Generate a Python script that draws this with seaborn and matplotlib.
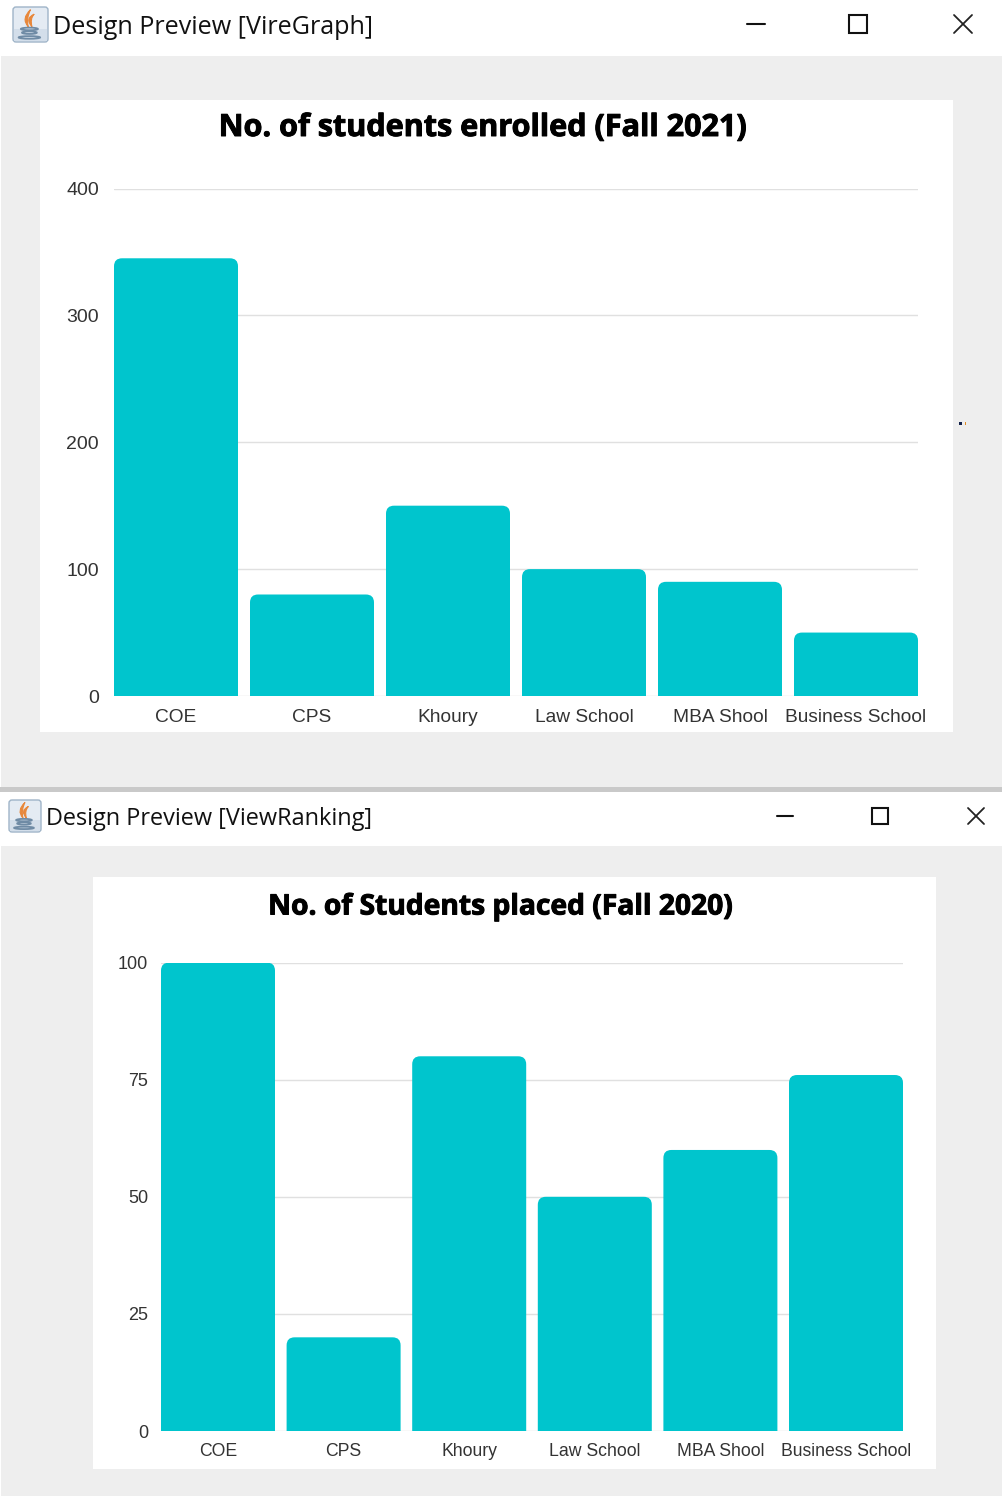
import matplotlib
matplotlib.use('Agg')
import matplotlib.pyplot as plt
import matplotlib.patheffects as pe
import pandas as pd
import seaborn as sns
from matplotlib.patches import FancyBboxPatch, Rectangle, Ellipse, PathPatch
from matplotlib.path import Path

W, H = 1002, 1496

# chart data
categories = ['COE', 'CPS', 'Khoury', 'Law School', 'MBA Shool', 'Business School']
enrolled = [345, 80, 150, 100, 90, 50]
placed = [100, 20, 80, 50, 60, 76]
enrolled_ticks = [0, 100, 200, 300, 400]
placed_ticks = [0, 25, 50, 75, 100]

TEAL = '#00c5cd'
GRID = '#e0e0e0'
PANEL = '#eeeeee'

sns.set_theme(style='white')
plt.rcParams['font.family'] = ['Liberation Sans', 'DejaVu Sans']

fig = plt.figure(figsize=(W / 100, H / 100), dpi=100, facecolor='white')

# full-figure axes in pixel coords, for the window chrome
bg = fig.add_axes([0, 0, 1, 1], zorder=0)
bg.set_xlim(0, W)
bg.set_ylim(H, 0)
bg.axis('off')


def rect(x0, y0, x1, y1, color):
    bg.add_patch(Rectangle((x0, y0), x1 - x0, y1 - y0, fc=color, ec='none'))


def java_icon(x, y, s):
    """ little java cup icon, x/y = top left, s = size in px """
    bg.add_patch(FancyBboxPatch((x + 1, y + 1), s - 2, s - 2, boxstyle='round,pad=0,rounding_size=3',
                                fc='#e4ebf3', ec='#9fb4c8', lw=1))
    bg.add_patch(Rectangle((x + 2, y + s * 0.62), s - 4, s * 0.33, fc='#d3deea', ec='none'))
    for dx, top in [(0, .10), (.10, .22)]:
        flame = Path([(x + s * (.50 + dx), y + s * top), (x + s * (.24 + dx), y + s * .34), (x + s * (.44 + dx), y + s * .56),
                      (x + s * (.38 + dx), y + s * .34), (x + s * (.50 + dx), y + s * top)],
                     [Path.MOVETO, Path.CURVE3, Path.CURVE3, Path.CURVE3, Path.CURVE3])
        bg.add_patch(PathPatch(flame, fc='#e8873a', ec='#e8873a', lw=0.8))
    for cy, cw in [(.62, .46), (.72, .40), (.85, .58)]:
        bg.add_patch(Ellipse((x + s * .47, y + s * cy), s * cw, s * .07, fc='none', ec='#6f8ba5', lw=1.3))


def window_buttons(xmin, xbox, xclose, y, size):
    bg.plot([xmin - size / 2, xmin + size / 2], [y, y], color='#111111', lw=1.5)
    bg.add_patch(Rectangle((xbox - size / 2, y - size / 2), size, size, fc='none', ec='#111111', lw=1.5))
    bg.plot([xclose - size / 2, xclose + size / 2], [y - size / 2, y + size / 2], color='#222222', lw=1.3)
    bg.plot([xclose - size / 2, xclose + size / 2], [y + size / 2, y - size / 2], color='#222222', lw=1.3)


# window backgrounds and white chart panels
rect(1, 56, W, 787, PANEL)
rect(1, 846, W, H, PANEL)
rect(0, 787, W, 792, '#c9c9c9')
rect(40, 100, 953, 732, 'white')
rect(93, 877, 936, 1469, 'white')

java_icon(12, 6, 37)
java_icon(8, 799, 34)
bg.text(53, 27, 'Design Preview [VireGraph]', fontsize=18.1, family='Open Sans', color='#111111', va='center', ha='left')
bg.text(46, 819, 'Design Preview [ViewRanking]', fontsize=16.9, family='Open Sans', color='#111111', va='center', ha='left')
window_buttons(756, 858, 963, 24, 18)
window_buttons(785, 880, 976, 816, 16)

# stray pixels right of the top panel
bg.add_patch(Rectangle((959, 422), 3, 3, fc='#10204a', ec='none'))
bg.add_patch(Rectangle((965, 422), 1.5, 3, fc='#e08a20', ec='none'))


def bar_chart(box, values, ticks, ymax, title, title_y, title_size, ysize, xsize, gap, radius, ypad, xpad):
    """ draw one seaborn bar chart inside box=(left, top, right, bottom) in pixels """
    left, top, right, bottom = box
    ax = fig.add_axes([left / W, 1 - bottom / H, (right - left) / W, (bottom - top) / H], zorder=1)
    ax.patch.set_alpha(0)
    n = len(categories)
    bar_px = ((right - left) - gap * (n - 1)) / n
    frac = bar_px / (bar_px + gap)
    df = pd.DataFrame({'category': categories, 'value': values})
    sns.barplot(data=df, x='category', y='value', color=TEAL, saturation=1, width=frac, ax=ax, zorder=3)
    ax.set_xlim(-frac / 2, n - 1 + frac / 2)
    ax.set_ylim(0, ymax)
    ax.set_yticks(ticks)
    ax.set_xlabel('')
    ax.set_ylabel('')
    ax.grid(axis='y', color=GRID, lw=1)
    ax.set_axisbelow(True)
    sns.despine(ax=ax, left=True, top=True, right=True, bottom=True)
    ax.tick_params(axis='y', length=0, pad=ypad, labelsize=ysize, labelcolor='#333333')
    ax.tick_params(axis='x', length=0, pad=xpad, labelsize=xsize, labelcolor='#333333')
    for lab in ax.get_yticklabels():
        lab.set_verticalalignment('center_baseline')

    # swap each bar for one with rounded top corners; the axes clip the part below the baseline
    x_per_px = (n - 1 + frac) / (right - left)
    y_per_px = ymax / (bottom - top)
    for bar in list(ax.patches[:n]):
        bar.set_visible(False)
        ax.add_patch(FancyBboxPatch((bar.get_x(), -ymax * 0.1), bar.get_width(), bar.get_height() + ymax * 0.1,
                                    boxstyle='round,pad=0,rounding_size=%f' % (radius * x_per_px),
                                    mutation_aspect=y_per_px / x_per_px,
                                    fc=TEAL, ec='none', lw=0, zorder=3))

    txt = bg.text((left + right) / 2 + title[1], title_y, title[0], fontsize=title_size, family='Open Sans',
                  weight='bold', color='black', ha='center', va='center')
    txt.set_path_effects([pe.withStroke(linewidth=0.7, foreground='black')])
    return ax


bar_chart((114, 188.5, 918, 696), enrolled, enrolled_ticks, 400, ('No. of students enrolled (Fall 2021)', -34),
          128, 22.0, 14, 13.8, 12, 8, 10.8, 9.3)
bar_chart((161, 962.6, 903, 1431), placed, placed_ticks, 100, ('No. of Students placed (Fall 2020)', -31),
          907, 20.3, 13.0, 12.7, 11.6, 8, 9.4, 8.6)

fig.savefig('out.png', dpi=100, facecolor=fig.get_facecolor())
